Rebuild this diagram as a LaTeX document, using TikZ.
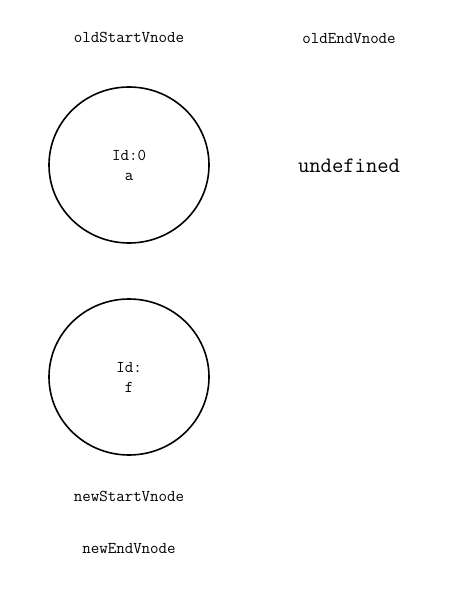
\documentclass[tikz,border=0pt]{standalone}
\tikzset{
  lbl/.style={font=\ttfamily\fontsize{16.5}{18}\selectfont, inner sep=0pt},
  big/.style={font=\ttfamily\fontsize{22}{24}\selectfont, inner sep=0pt},
  vnode/.style={draw, line width=1.6pt, ellipse, minimum width=160pt, minimum height=156pt, inner sep=0pt, align=center, font=\ttfamily\fontsize{16.5}{20}\selectfont}
}
\usetikzlibrary{shapes.geometric}
\begin{document}
\begin{tikzpicture}[x=1pt,y=-1pt]
\useasboundingbox (0,0) rectangle (462,601);
\node[lbl] (os) at (129,37) {oldStartVnode};
\node[lbl] (oe) at (349,39) {oldEndVnode};
\node[vnode] (c1) at (129,165) {Id:0\\a};
\node[big] (und) at (349,166) {undefined};
\node[vnode] (c2) at (129,377) {Id:\\f};
\node[lbl] (ns) at (129,496) {newStartVnode};
\node[lbl] (ne) at (129,549) {newEndVnode};
\end{tikzpicture}
\end{document}
